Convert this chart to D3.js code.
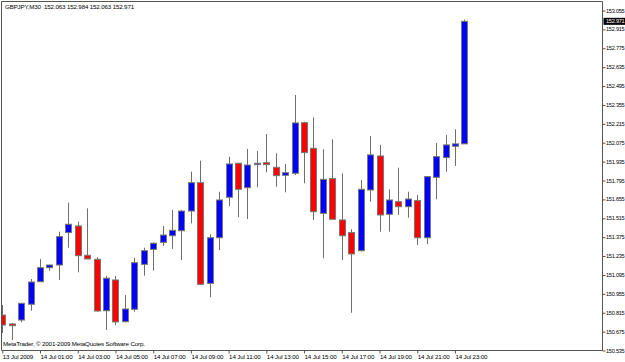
<!DOCTYPE html>
<html>
<head>
<meta charset="utf-8">
<script src="https://cdn.jsdelivr.net/npm/d3@7"></script>
<style>
  html, body { margin: 0; padding: 0; background: #fff; }
  svg { display: block; }
  .lbl { font-family: "Liberation Sans", Arial, sans-serif; font-size: 6.2px; fill: #000; letter-spacing: -0.15px; white-space: pre; }
  .plbl { font-family: "Liberation Sans", Arial, sans-serif; font-size: 5.6px; fill: #000; letter-spacing: -0.25px; }
</style>
</head>
<body>
<svg id="chart"></svg>
<script>

  // GBPJPY M30, 13 Jul 2009 23:00 .. 14 Jul 2009 23:30
  var symbolTitle = "GBPJPY,M30  152.063 152.984 152.063 152.971";
  var copyright = "MetaTrader, \u00a9 2001-2009 MetaQuotes Software Corp.";

  var opens  = [150.794,150.728,150.757,150.874,151.041,151.145,151.165,151.405,151.454,151.237,
                151.207,150.826,151.054,150.745,150.837,151.170,151.281,151.333,151.382,151.419,
                151.565,151.775,151.029,151.367,151.667,151.919,151.738,151.909,151.923,151.889,
                151.830,151.845,152.220,152.030,151.548,151.805,151.499,151.405,151.271,151.721,
                151.973,151.541,151.634,151.597,151.642,151.367,151.815,151.961,152.045,152.063];
  var highs  = [150.869,150.735,150.883,151.061,151.210,151.166,151.412,151.627,151.486,151.585,
                151.222,151.084,151.084,150.943,151.219,151.293,151.333,151.454,151.573,151.573,
                151.857,151.938,151.393,151.708,151.968,151.922,152.025,152.010,152.136,151.993,
                151.914,152.425,152.227,152.260,152.023,152.097,151.845,151.430,151.795,152.121,
                152.055,151.726,151.886,151.708,151.684,151.823,152.070,152.129,152.171,152.984];
  var lows   = [150.661,150.609,150.740,150.826,151.039,151.123,151.054,151.293,151.111,151.209,
                150.819,150.683,150.718,150.740,150.819,151.086,151.123,151.306,151.284,151.202,
                151.474,151.018,150.926,151.276,151.602,151.519,151.506,151.741,151.852,151.745,
                151.704,151.832,151.771,151.499,151.215,151.502,151.202,150.811,151.265,151.634,
                151.412,151.412,151.536,151.516,151.313,151.319,151.652,151.857,151.899,152.063];
  var closes = [150.720,150.715,150.881,151.039,151.145,151.165,151.375,151.467,151.234,151.210,
                150.824,151.067,150.743,150.839,151.182,151.271,151.326,151.387,151.422,151.565,
                151.775,151.022,151.367,151.647,151.914,151.726,151.906,151.919,151.909,151.827,
                151.849,152.218,151.998,151.560,151.800,151.504,151.382,151.247,151.726,151.981,
                151.536,151.647,151.597,151.654,151.367,151.820,151.968,152.055,152.063,152.971];

  var priceTicks = [153.055,152.915,152.775,152.635,152.495,152.355,152.215,152.075,151.935,151.795,
                    151.655,151.515,151.375,151.235,151.095,150.955,150.815,150.675,150.535];
  var timeTickLabels = ["13 Jul 2009","14 Jul 01:00","14 Jul 03:00","14 Jul 05:00","14 Jul 07:00",
                        "14 Jul 09:00","14 Jul 11:00","14 Jul 13:00","14 Jul 15:00","14 Jul 17:00",
                        "14 Jul 19:00","14 Jul 21:00","14 Jul 23:00"];
  var lastPrice = 152.971;

  (function() {

    var width = 625, height = 362,
        plot = {left: 1.5, top: 1.5, right: 602.5, bottom: 350.5},
        bodyWidth = 6,
        firstBar = Date.UTC(2009, 6, 13, 23, 0),
        halfHour = 30 * 60 * 1000;

    var bars = opens.map(function(o, i) {
      return {t: new Date(firstBar + i * halfHour), o: o, h: highs[i], l: lows[i], c: closes[i]};
    });

    var svg = d3.select('#chart').attr('width', width).attr('height', height);

    var x = d3.scaleUtc()
      .domain([bars[0].t, bars[bars.length - 1].t])
      .range([2.3, 2.3 + 49 * 9.43]);

    var y = d3.scaleLinear()
      .domain([150.535, 153.055])
      .range([350, 10]);

    // frame
    svg.append('path')
      .attr('d', 'M' + plot.left + ',' + plot.bottom + 'V' + plot.top + 'H' + plot.right + 'V' + plot.bottom + 'H' + plot.left)
      .attr('fill', 'none')
      .attr('stroke', '#555')
      .attr('stroke-width', 1);

    svg.append('clipPath').attr('id', 'plotclip')
      .append('rect')
      .attr('x', plot.left + 0.5).attr('y', plot.top + 0.5)
      .attr('width', plot.right - plot.left - 1).attr('height', plot.bottom - plot.top - 1);

    var candles = svg.append('g').attr('clip-path', 'url(#plotclip)')
      .selectAll('.candle').data(bars).enter().append('g').attr('class', 'candle');

    candles.append('line')
      .attr('x1', function(d) { return Math.round(x(d.t)) + 0.5; })
      .attr('x2', function(d) { return Math.round(x(d.t)) + 0.5; })
      .attr('y1', function(d) { return y(d.h); })
      .attr('y2', function(d) { return y(d.l); })
      .attr('stroke', '#6e6e6e')
      .attr('stroke-width', 1);

    candles.append('rect')
      .attr('x', function(d) { return Math.round(x(d.t)) - bodyWidth / 2 + 0.5; })
      .attr('y', function(d) { return y(Math.max(d.o, d.c)); })
      .attr('width', bodyWidth)
      .attr('height', function(d) { return Math.max(1, Math.abs(y(d.o) - y(d.c))); })
      .attr('fill', function(d) { return d.c >= d.o ? '#0000ff' : '#ff0000'; })
      .attr('stroke', '#777')
      .attr('stroke-width', 1);

    // price axis on the right
    var yAxis = d3.axisRight(y).tickValues(priceTicks).tickSize(3).tickSizeOuter(0)
      .tickFormat(d3.format('.3f'));
    var gy = svg.append('g').attr('transform', 'translate(' + plot.right + ',0)').call(yAxis);
    gy.select('.domain').remove();
    gy.selectAll('line').attr('stroke', '#555').attr('transform', 'translate(0,0.5)');
    gy.selectAll('text').attr('class', 'plbl').attr('x', 3.5).attr('dy', '0.36em');

    // current price marker
    var lp = svg.append('g').attr('transform', 'translate(' + (plot.right + 1) + ',' + y(lastPrice) + ')');
    lp.append('rect').attr('x', 0).attr('y', -3.5).attr('width', 22).attr('height', 7).attr('fill', '#000');
    lp.append('text').attr('class', 'plbl').attr('x', 2.5).attr('dy', '0.36em').style('fill', '#fff')
      .text(d3.format('.3f')(lastPrice));

    // time axis
    var timeTicks = timeTickLabels.map(function(s, i) {
      return i === 0 ? bars[0].t : new Date(Date.UTC(2009, 6, 14, 2 * i - 1, 0));
    });
    var xAxis = d3.axisBottom(x).tickValues(timeTicks).tickSize(3).tickSizeOuter(0)
      .tickFormat(function(d, i) { return timeTickLabels[i]; });
    var gx = svg.append('g').attr('transform', 'translate(0,' + plot.bottom + ')').call(xAxis);
    gx.select('.domain').remove();
    gx.selectAll('line').attr('stroke', '#555');
    gx.selectAll('text').attr('class', 'lbl').attr('text-anchor', 'start').attr('x', 0).attr('y', 4).attr('dy', '0.71em');

    // texts
    svg.append('text').attr('class', 'lbl').attr('x', 5).attr('y', 9).text(symbolTitle);
    svg.append('text').attr('class', 'lbl').attr('x', 3).attr('y', 346).text(copyright);

  })();

</script>
</body>
</html>
